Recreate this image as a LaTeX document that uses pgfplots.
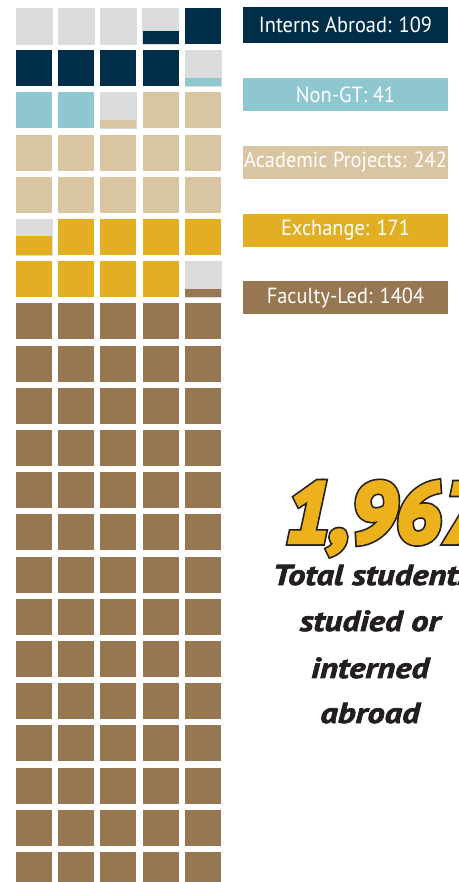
\documentclass[border=0pt]{standalone}
\usepackage{fontspec}
\setmainfont{PT Sans}
\newfontfamily\legfont{PT Sans}[FakeStretch=0.93]
\newfontfamily\heavyfont{PT Sans}[BoldItalicFeatures={FakeBold=2.5, FakeStretch=1.2}]
\newfontfamily\numfontA{PT Sans}[BoldItalicFeatures={FakeBold=9}]
\newfontfamily\numfontB{PT Sans}[BoldItalicFeatures={FakeBold=5}]
\usepackage{pgfplots}
\pgfplotsset{compat=1.18}
\usepackage{pgfplotstable}

\definecolor{wgrey}{HTML}{DADBDD}
\definecolor{wnavy}{HTML}{002E48}
\definecolor{wblue}{HTML}{8FC7D1}
\definecolor{wtan}{HTML}{D9C5A1}
\definecolor{wgold}{HTML}{E1AE24}
\definecolor{wbrown}{HTML}{967752}
\definecolor{numgold}{HTML}{EDB11C}
\definecolor{tdark}{HTML}{231F20}

\pgfdeclareplotmark{wpart}{%
  \pgfpathrectangle{\pgfpoint{-18bp}{-18bp}}{\pgfpoint{36bp}{\ff*36bp}}%
  \pgfusepathqfill}

\pgfplotsset{cell/.style={only marks, color=#1, mark=wpart, mark options={fill=#1},
  visualization depends on={\thisrow{f}\as\ff}}}

% cells that are (partly) grey
\pgfplotstableread{
c r
1 1
2 1
3 1
4 1
5 2
3 3
1 6
5 7
}\greydata
% Interns Abroad: 109
\pgfplotstableread{
c r f
4 1 0.36
5 1 1
1 2 1
2 2 1
3 2 1
4 2 1
}\navydata
% Non-GT: 41
\pgfplotstableread{
c r f
5 2 0.22
1 3 1
2 3 1
}\bluedata
% Academic Projects: 242
\pgfplotstableread{
c r f
3 3 0.22
4 3 1
5 3 1
1 4 1
2 4 1
3 4 1
4 4 1
5 4 1
1 5 1
2 5 1
3 5 1
4 5 1
5 5 1
}\tandata
% Exchange: 171
\pgfplotstableread{
c r f
1 6 0.53
2 6 1
3 6 1
4 6 1
5 6 1
1 7 1
2 7 1
3 7 1
4 7 1
}\golddata
% Faculty-Led: 1404
\pgfplotstableread{
c r f
5 7 0.22
1 8 1
2 8 1
3 8 1
4 8 1
5 8 1
1 9 1
2 9 1
3 9 1
4 9 1
5 9 1
1 10 1
2 10 1
3 10 1
4 10 1
5 10 1
1 11 1
2 11 1
3 11 1
4 11 1
5 11 1
1 12 1
2 12 1
3 12 1
4 12 1
5 12 1
1 13 1
2 13 1
3 13 1
4 13 1
5 13 1
1 14 1
2 14 1
3 14 1
4 14 1
5 14 1
1 15 1
2 15 1
3 15 1
4 15 1
5 15 1
1 16 1
2 16 1
3 16 1
4 16 1
5 16 1
1 17 1
2 17 1
3 17 1
4 17 1
5 17 1
1 18 1
2 18 1
3 18 1
4 18 1
5 18 1
1 19 1
2 19 1
3 19 1
4 19 1
5 19 1
1 20 1
2 20 1
3 20 1
4 20 1
5 20 1
1 21 1
2 21 1
3 21 1
4 21 1
5 21 1
}\browndata

\begin{document}
\begin{tikzpicture}
\useasboundingbox (0,0) rectangle (459bp,882bp);
\clip (0,0) rectangle (459bp,882bp);
\begin{axis}[
  at={(0,0)}, anchor=south west,
  scale only axis, width=459bp, height=882bp,
  xmin=0.194, xmax=11.071, ymin=0.384, ymax=21.284,
  y dir=reverse, hide axis, clip marker paths=true,
]
\addplot[only marks, color=wgrey, mark=square*, mark size=18bp, mark options={draw=none, fill=wgrey}] table[x=c, y=r] {\greydata};
\addplot[cell=wnavy] table[x=c, y=r] {\navydata};
\addplot[cell=wblue] table[x=c, y=r] {\bluedata};
\addplot[cell=wtan] table[x=c, y=r] {\tandata};
\addplot[cell=wgold] table[x=c, y=r] {\golddata};
\addplot[cell=wbrown] table[x=c, y=r] {\browndata};
\end{axis}

\tikzset{leg/.style={text=white, minimum width=205bp, minimum height=33bp, inner sep=0pt, anchor=center, font=\legfont\fontsize{22}{22}\selectfont}}
\node[leg, fill=wnavy, minimum height=36bp] at (345.5bp, 857bp) {Interns Abroad: 109};
\node[leg, fill=wblue] at (345.5bp, 787.5bp) {Non-GT: 41};
\node[leg, fill=wtan] at (345.5bp, 719.5bp) {Academic Projects: 242};
\node[leg, fill=wgold] at (345.5bp, 651.5bp) {Exchange: 171};
\node[leg, fill=wbrown] at (345.5bp, 584.5bp) {Faculty-Led: 1404};

% big total: dark outline layer, then thickened gold layer on top
\node[anchor=base west, inner sep=0pt, text=numgold, font=\numfontA\fontsize{84}{84}\selectfont\bfseries\itshape] at (285bp, 340bp) {\special{pdf:code 0.137 0.122 0.125 RG}1,967};
\node[anchor=base west, inner sep=0pt, text=numgold, font=\numfontB\fontsize{84}{84}\selectfont\bfseries\itshape] at (285bp, 340bp) {1,967};

\tikzset{tot/.style={anchor=base, inner sep=0pt, text=tdark, font=\heavyfont\fontsize{29}{29}\selectfont\bfseries\itshape}}
\node[tot] at (372bp, 297bp) {Total students};
\node[tot] at (370bp, 251bp) {studied or};
\node[tot] at (370bp, 204bp) {interned};
\node[tot] at (370bp, 159bp) {abroad};
\end{tikzpicture}
\end{document}
